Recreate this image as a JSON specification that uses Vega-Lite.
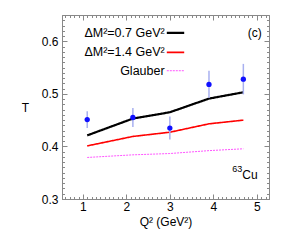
{
  "$schema": "https://vega.github.io/schema/vega-lite/v6.json",
  "width": 207,
  "height": 184,
  "autosize": "none",
  "padding": {"left": 62, "top": 15, "right": 24, "bottom": 53},
  "background": "white",
  "config": {
    "font": "Liberation Sans",
    "view": {"stroke": "#888888", "strokeWidth": 1},
    "axis": {"grid": false, "domainColor": "#888888", "tickColor": "#888888", "labelColor": "black", "labelFont": "Liberation Sans", "titleFont": "Liberation Sans", "labelFontSize": 12, "titleFontSize": 12, "titleFontWeight": "normal", "titleColor": "black"}
  },
  "datasets": {
    "lines": [
      {"s": "a", "q": 1.1, "t": 0.421}, {"s": "a", "q": 2.15, "t": 0.453}, {"s": "a", "q": 3.0, "t": 0.465}, {"s": "a", "q": 3.9, "t": 0.491}, {"s": "a", "q": 4.69, "t": 0.503},
      {"s": "b", "q": 1.1, "t": 0.401}, {"s": "b", "q": 2.15, "t": 0.419}, {"s": "b", "q": 3.0, "t": 0.427}, {"s": "b", "q": 3.9, "t": 0.443}, {"s": "b", "q": 4.69, "t": 0.450},
      {"s": "c", "q": 1.1, "t": 0.379}, {"s": "c", "q": 2.15, "t": 0.384}, {"s": "c", "q": 3.0, "t": 0.3865}, {"s": "c", "q": 3.9, "t": 0.392}, {"s": "c", "q": 4.69, "t": 0.3955}
    ],
    "points": [
      {"q": 1.1, "t": 0.451, "lo": 0.435, "hi": 0.467},
      {"q": 2.15, "t": 0.455, "lo": 0.437, "hi": 0.473},
      {"q": 3.0, "t": 0.435, "lo": 0.413, "hi": 0.457},
      {"q": 3.9, "t": 0.518, "lo": 0.492, "hi": 0.544},
      {"q": 4.69, "t": 0.528, "lo": 0.499, "hi": 0.557}
    ],
    "legend": [
      {"s": "a", "label": "ΔM²=0.7 GeV²", "x1": 2.93, "x2": 3.33, "xt": 2.88, "t": 0.616},
      {"s": "b", "label": "ΔM²=1.4 GeV²", "x1": 2.93, "x2": 3.33, "xt": 2.88, "t": 0.579},
      {"s": "c", "label": "Glauber", "x1": 2.93, "x2": 3.33, "xt": 2.88, "t": 0.544}
    ],
    "notes": [
      {"label": "(c)", "q": 4.95, "t": 0.616}
    ],
    "cu": [
      {"label": "Cu", "q": 4.665, "t": 0.345}
    ],
    "sup": [
      {"label": "63", "q": 4.665, "t": 0.345}
    ]
  },
  "layer": [
    {
      "data": {"name": "lines"},
      "mark": {"type": "line"},
      "encoding": {
        "x": {"field": "q", "type": "quantitative", "scale": {"domain": [0.52, 5.28], "nice": false, "zero": false},
          "axis": {"orient": "bottom", "values": [1, 2, 3, 4, 5], "tickSize": -5, "labelPadding": 7, "title": "Q² (GeV²)", "titlePadding": 4}},
        "y": {"field": "t", "type": "quantitative", "scale": {"domain": [0.3, 0.65], "nice": false, "zero": false},
          "axis": {"orient": "left", "values": [0.3, 0.4, 0.5, 0.6], "format": ".1f", "tickSize": -5, "labelPadding": 9, "title": "T", "titleAngle": 0, "titleX": -37, "titleY": 92, "titleAlign": "center", "titleBaseline": "middle"}},
        "color": {"field": "s", "type": "nominal", "scale": {"domain": ["a", "b", "c"], "range": ["#000000", "#ff0000", "#ff55ff"]}, "legend": null},
        "strokeWidth": {"field": "s", "type": "nominal", "scale": {"domain": ["a", "b", "c"], "range": [2.2, 1.0, 1.4]}, "legend": null},
        "strokeDash": {"field": "s", "type": "nominal", "scale": {"domain": ["a", "b", "c"], "range": [[1, 0], [1, 0], [2, 1]]}, "legend": null}
      }
    },
    {
      "data": {"name": "points"},
      "mark": {"type": "rule", "color": "#a8b0f0", "strokeWidth": 1.5},
      "encoding": {
        "x": {"field": "q", "type": "quantitative", "scale": {"domain": [0.52, 5.28], "nice": false, "zero": false},
          "axis": {"orient": "top", "values": [1, 2, 3, 4, 5], "tickSize": -5, "labels": false, "title": null}},
        "y": {"field": "lo", "type": "quantitative", "scale": {"domain": [0.3, 0.65], "nice": false, "zero": false},
          "axis": {"orient": "right", "values": [0.3, 0.4, 0.5, 0.6], "tickSize": -5, "labels": false, "title": null}},
        "y2": {"field": "hi"}
      }
    },
    {
      "data": {"name": "points"},
      "mark": {"type": "circle", "color": "#1010ff", "opacity": 1, "size": 28},
      "encoding": {
        "x": {"field": "q", "type": "quantitative", "scale": {"domain": [0.52, 5.28], "nice": false, "zero": false},
          "axis": {"orient": "bottom", "values": [0.6,0.7,0.8,0.9,1.1,1.2,1.3,1.4,1.5,1.6,1.7,1.8,1.9,2.1,2.2,2.3,2.4,2.5,2.6,2.7,2.8,2.9,3.1,3.2,3.3,3.4,3.5,3.6,3.7,3.8,3.9,4.1,4.2,4.3,4.4,4.5,4.6,4.7,4.8,4.9,5.1,5.2], "tickSize": -2.5, "labels": false, "domain": false, "title": null}},
        "y": {"field": "t", "type": "quantitative", "scale": {"domain": [0.3, 0.65], "nice": false, "zero": false},
          "axis": {"orient": "left", "values": [0.31,0.32,0.33,0.34,0.35,0.36,0.37,0.38,0.39,0.41,0.42,0.43,0.44,0.45,0.46,0.47,0.48,0.49,0.51,0.52,0.53,0.54,0.55,0.56,0.57,0.58,0.59,0.61,0.62,0.63,0.64], "tickSize": -2.5, "labels": false, "domain": false, "title": null}}
      }
    },
    {
      "data": {"name": "legend"},
      "mark": {"type": "rule"},
      "encoding": {
        "x": {"field": "x1", "type": "quantitative", "scale": {"domain": [0.52, 5.28], "nice": false, "zero": false},
          "axis": {"orient": "top", "values": [0.6,0.7,0.8,0.9,1.1,1.2,1.3,1.4,1.5,1.6,1.7,1.8,1.9,2.1,2.2,2.3,2.4,2.5,2.6,2.7,2.8,2.9,3.1,3.2,3.3,3.4,3.5,3.6,3.7,3.8,3.9,4.1,4.2,4.3,4.4,4.5,4.6,4.7,4.8,4.9,5.1,5.2], "tickSize": -2.5, "labels": false, "domain": false, "title": null}},
        "x2": {"field": "x2"},
        "y": {"field": "t", "type": "quantitative", "scale": {"domain": [0.3, 0.65], "nice": false, "zero": false},
          "axis": {"orient": "right", "values": [0.31,0.32,0.33,0.34,0.35,0.36,0.37,0.38,0.39,0.41,0.42,0.43,0.44,0.45,0.46,0.47,0.48,0.49,0.51,0.52,0.53,0.54,0.55,0.56,0.57,0.58,0.59,0.61,0.62,0.63,0.64], "tickSize": -2.5, "labels": false, "domain": false, "title": null}},
        "color": {"field": "s", "type": "nominal", "scale": {"domain": ["a", "b", "c"], "range": ["#000000", "#ff0000", "#ff55ff"]}, "legend": null},
        "strokeWidth": {"field": "s", "type": "nominal", "scale": {"domain": ["a", "b", "c"], "range": [2.2, 1.0, 1.4]}, "legend": null},
        "strokeDash": {"field": "s", "type": "nominal", "scale": {"domain": ["a", "b", "c"], "range": [[1, 0], [1, 0], [2, 1]]}, "legend": null}
      }
    },
    {
      "data": {"name": "legend"},
      "mark": {"type": "text", "align": "right", "baseline": "middle", "fontSize": 12.5, "font": "Liberation Sans", "color": "black"},
      "encoding": {
        "x": {"field": "xt", "type": "quantitative", "scale": {"domain": [0.52, 5.28], "nice": false, "zero": false}, "axis": null},
        "y": {"field": "t", "type": "quantitative", "scale": {"domain": [0.3, 0.65], "nice": false, "zero": false}, "axis": null},
        "text": {"field": "label"}
      }
    },
    {
      "data": {"name": "notes"},
      "mark": {"type": "text", "align": "center", "baseline": "middle", "fontSize": 12, "font": "Liberation Sans", "color": "black"},
      "encoding": {
        "x": {"field": "q", "type": "quantitative", "scale": {"domain": [0.52, 5.28], "nice": false, "zero": false}, "axis": null},
        "y": {"field": "t", "type": "quantitative", "scale": {"domain": [0.3, 0.65], "nice": false, "zero": false}, "axis": null},
        "text": {"field": "label"}
      }
    },
    {
      "data": {"name": "cu"},
      "mark": {"type": "text", "align": "left", "baseline": "middle", "fontSize": 12, "font": "Liberation Sans", "color": "black"},
      "encoding": {
        "x": {"field": "q", "type": "quantitative", "scale": {"domain": [0.52, 5.28], "nice": false, "zero": false}, "axis": null},
        "y": {"field": "t", "type": "quantitative", "scale": {"domain": [0.3, 0.65], "nice": false, "zero": false}, "axis": null},
        "text": {"field": "label"}
      }
    },
    {
      "data": {"name": "sup"},
      "mark": {"type": "text", "align": "right", "baseline": "middle", "fontSize": 9, "dy": -6, "font": "Liberation Sans", "color": "black"},
      "encoding": {
        "x": {"field": "q", "type": "quantitative", "scale": {"domain": [0.52, 5.28], "nice": false, "zero": false}, "axis": null},
        "y": {"field": "t", "type": "quantitative", "scale": {"domain": [0.3, 0.65], "nice": false, "zero": false}, "axis": null},
        "text": {"field": "label"}
      }
    }
  ],
  "resolve": {"axis": {"x": "independent", "y": "independent"}}
}
